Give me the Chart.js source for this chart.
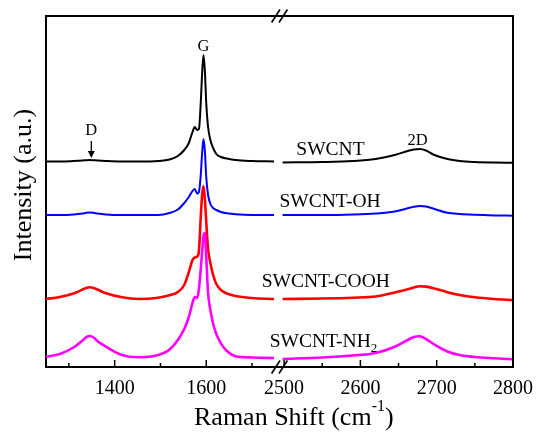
<!DOCTYPE html>
<html>
<head>
<meta charset="utf-8">
<script src="https://cdn.jsdelivr.net/npm/chart.js@4.4.0/dist/chart.umd.min.js"></script>
<style>
  html, body { margin: 0; padding: 0; background: #fff; }
  #wrap { width: 543px; height: 432px; position: relative; }
</style>
</head>
<body>
<div id="wrap"><canvas id="raman"></canvas></div>
<script>
// Raman shift grid (cm-1) for the two windows of the broken axis
const shiftLow  = [1250, 1280, 1310, 1330, 1338, 1346, 1354, 1362, 1381, 1416,
                   1452, 1495, 1520, 1538, 1552, 1562, 1570, 1575, 1580, 1584,
                   1588, 1591, 1594, 1597, 1600, 1604, 1609, 1615, 1622, 1632,
                   1645, 1664, 1700, 1748];
const shiftHigh = [2498, 2550, 2590, 2620, 2645, 2662, 2670, 2678, 2686, 2697,
                   2714, 2730, 2750, 2775, 2800];

// stacked intensities (a.u., vertical offsets included)
const swcntLow  = [205.5, 205.5, 206, 206.5, 206.8, 207, 206.8, 206.5, 206, 205.5,
                   205.5, 206, 207.5, 211, 217, 224, 235, 240, 237, 238,
                   264, 294, 312, 296, 264, 240, 227, 219, 213, 210,
                   208.5, 207, 206, 205.5];
const swcntHigh = [204.5, 205, 206, 208, 212, 216, 217.5, 218, 216.5, 212,
                   208, 206, 205, 204.5, 204.3];

const ohLow  = [152, 152, 152.5, 153.5, 154.2, 154.5, 154.2, 153.5, 152.5, 152,
                152, 152, 154, 157.5, 164, 170, 176, 178, 173.5, 175,
                192, 214, 228, 216, 190, 172, 163, 159, 157, 155,
                153.7, 152.7, 152, 152];
const ohHigh = [152, 152, 152.5, 153.5, 155.5, 158.7, 160.2, 161, 160.6, 158,
                154.2, 153, 152.2, 151.6, 151.3];

const coohLow  = [68, 70, 73.5, 77.5, 79, 79.7, 79, 77.5, 73.7, 69.7,
                  68, 69.3, 71.7, 75, 82, 95, 107, 109.5, 110.5, 116,
                  150, 172, 181, 168, 145, 118, 104, 92, 83, 77,
                  73.5, 71, 69, 68];
const coohHigh = [68, 68.5, 69.3, 70.5, 74.5, 77.7, 79.6, 80.8, 80.4, 78.5,
                  74.8, 72, 69.7, 68, 67];

const nh2Low  = [10.3, 13, 19.5, 26.5, 29.8, 31, 29.5, 26, 20.3, 12,
                 9.7, 12, 17.5, 27, 38, 50, 64, 70, 69, 78,
                 98, 115, 131, 134, 110, 74, 57, 43.5, 33, 23.7,
                 16, 10.8, 9.5, 9];
const nh2High = [8, 9.5, 11.5, 14, 20.3, 27, 30, 30.8, 28, 22.5,
                 15.5, 12, 10, 8.7, 7.7];

const majorTicks = [1400, 1600, 2500, 2600, 2700, 2800];
const minorTicks = [1300, 1500, 1700, 2550, 2650, 2750];

// each window gets half of the axis
const lowWindow = [1250, 1760];
const highWindow = [2494, 2800];

function toAxis(shift) {
  if (shift <= lowWindow[1]) {
    return 0.5 * (shift - lowWindow[0]) / (lowWindow[1] - lowWindow[0]);
  }
  return 0.5 + 0.5 * (shift - highWindow[0]) / (highWindow[1] - highWindow[0]);
}

function trace(low, high) {
  const pts = shiftLow.map((s, i) => ({ x: toAxis(s), y: low[i] }));
  pts.push({ x: 0.5, y: null });
  return pts.concat(shiftHigh.map((s, i) => ({ x: toAxis(s), y: high[i] })));
}

const SERIF = '"Liberation Serif", "Times New Roman", serif';

const decor = {
  id: 'decor',
  afterDraw(chart) {
    const { ctx, chartArea: a, scales: { x, y } } = chart;
    ctx.save();
    ctx.strokeStyle = '#000';
    ctx.fillStyle = '#000';

    // top + right frame
    ctx.lineWidth = 2;
    ctx.beginPath();
    ctx.moveTo(a.left - 1, a.top);
    ctx.lineTo(a.right, a.top);
    ctx.lineTo(a.right, a.bottom + 1);
    ctx.stroke();

    // inward tick marks
    ctx.lineWidth = 1.5;
    majorTicks.forEach(t => {
      const px = x.getPixelForValue(toAxis(t));
      ctx.beginPath(); ctx.moveTo(px, a.bottom); ctx.lineTo(px, a.bottom - 7); ctx.stroke();
    });
    minorTicks.forEach(t => {
      const px = x.getPixelForValue(toAxis(t));
      ctx.beginPath(); ctx.moveTo(px, a.bottom); ctx.lineTo(px, a.bottom - 4); ctx.stroke();
    });

    // axis break marks
    const cx = x.getPixelForValue(0.5);
    ctx.lineWidth = 1.6;
    [a.top, a.bottom].forEach(y0 => {
      [-3.7, 3.7].forEach(dx => {
        ctx.beginPath();
        ctx.moveTo(cx + dx - 4.2, y0 + 6.5);
        ctx.lineTo(cx + dx + 4.2, y0 - 6.5);
        ctx.stroke();
      });
    });

    // peak tags
    ctx.textAlign = 'center';
    ctx.textBaseline = 'alphabetic';
    ctx.font = '16.5px ' + SERIF;
    ctx.fillText('G', x.getPixelForValue(toAxis(1594)), y.getPixelForValue(316));
    ctx.fillText('D', x.getPixelForValue(toAxis(1349)), y.getPixelForValue(232));
    ctx.fillText('2D', x.getPixelForValue(toAxis(2675)), y.getPixelForValue(222));

    // D arrow
    const ax = x.getPixelForValue(toAxis(1349));
    const top = y.getPixelForValue(226), tip = y.getPixelForValue(209);
    ctx.lineWidth = 1.3;
    ctx.beginPath(); ctx.moveTo(ax, top); ctx.lineTo(ax, tip - 5); ctx.stroke();
    ctx.beginPath();
    ctx.moveTo(ax - 3.5, tip - 7); ctx.lineTo(ax + 3.5, tip - 7); ctx.lineTo(ax, tip);
    ctx.closePath(); ctx.fill();

    // series names
    ctx.textAlign = 'left';
    ctx.font = '19.5px ' + SERIF;
    ctx.fillText('SWCNT', x.getPixelForValue(toAxis(2516)), y.getPixelForValue(212));
    ctx.fillText('SWCNT-OH', x.getPixelForValue(toAxis(2494)), y.getPixelForValue(160.3));
    ctx.fillText('SWCNT-COOH', x.getPixelForValue(toAxis(1721)), y.getPixelForValue(80));
    const nx = x.getPixelForValue(toAxis(1738.5)), ny = y.getPixelForValue(20.3);
    ctx.fillText('SWCNT-NH', nx, ny);
    const nw = ctx.measureText('SWCNT-NH').width;
    ctx.font = '13px ' + SERIF;
    ctx.fillText('2', nx + nw, ny + 5);

    // axis titles
    ctx.font = '26px ' + SERIF;
    ctx.textAlign = 'left';
    const t1 = 'Raman Shift (cm';
    const tx = 194, ty = 425;
    ctx.fillText(t1, tx, ty);
    let w = ctx.measureText(t1).width;
    ctx.font = '16px ' + SERIF;
    ctx.fillText('-1', tx + w, ty - 14);
    w += ctx.measureText('-1').width;
    ctx.font = '26px ' + SERIF;
    ctx.fillText(')', tx + w, ty);

    ctx.translate(31, 185);
    ctx.rotate(-Math.PI / 2);
    ctx.textAlign = 'center';
    ctx.fillText('Intensity (a.u.)', 0, 0);
    ctx.restore();
  }
};

function lineSet(label, data, color, width, order) {
  return {
    label, data, order,
    borderColor: color,
    borderWidth: width,
    pointRadius: 0,
    cubicInterpolationMode: 'monotone',
    spanGaps: false,
    fill: false
  };
}

new Chart(document.getElementById('raman'), {
  type: 'line',
  data: {
    datasets: [
      lineSet('SWCNT', trace(swcntLow, swcntHigh), '#000000', 2, 3),
      lineSet('SWCNT-OH', trace(ohLow, ohHigh), '#0000ff', 2, 2),
      lineSet('SWCNT-COOH', trace(coohLow, coohHigh), '#ff0000', 2.6, 1),
      lineSet('SWCNT-NH2', trace(nh2Low, nh2High), '#ff00ff', 2.6, 0)
    ]
  },
  options: {
    responsive: true,
    maintainAspectRatio: false,
    animation: false,
    layout: { padding: { top: 16, right: 24, left: 0, bottom: 0 } },
    plugins: { legend: { display: false }, tooltip: { enabled: false } },
    scales: {
      x: {
        type: 'linear',
        min: 0,
        max: 1,
        afterFit: scale => { scale.height = 65; },
        afterBuildTicks: scale => {
          scale.ticks = majorTicks.map(t => ({ value: toAxis(t) }));
        },
        grid: { display: false, drawTicks: false },
        border: { display: true, color: '#000', width: 2 },
        ticks: {
          autoSkip: false,
          maxRotation: 0,
          minRotation: 0,
          padding: 10,
          color: '#000',
          font: { family: SERIF, size: 20 },
          callback: (value, index) => majorTicks[index]
        }
      },
      y: {
        type: 'linear',
        min: 0,
        max: 351,
        afterFit: scale => { scale.width = 46; },
        grid: { display: false, drawTicks: false },
        border: { display: true, color: '#000', width: 2 },
        ticks: { display: false }
      }
    }
  },
  plugins: [decor]
});
</script>
</body>
</html>
